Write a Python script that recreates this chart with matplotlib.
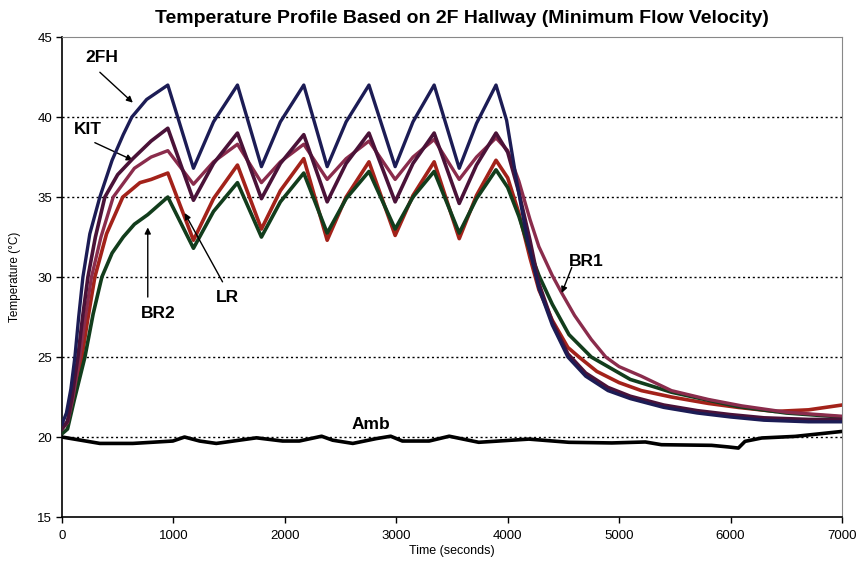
import matplotlib
matplotlib.use('Agg')
import matplotlib.pyplot as plt

plt.rcParams['font.family'] = ['Liberation Sans', 'DejaVu Sans']

# Data (time in s, temperature in deg C)
t_2fh = [0, 40, 80, 116, 150, 188, 250, 340, 450, 550, 627, 760, 950,
         1180, 1360, 1575, 1790, 1960, 2170, 2380, 2550, 2755, 2990, 3150, 3340, 3565, 3720, 3895,
         3990, 4080, 4180, 4280, 4400, 4540, 4700, 4900, 5100, 5400, 5700, 6000, 6300, 6700, 7000]
T_2fh = [20.8, 21.5, 23.0, 25.0, 27.5, 30.0, 32.7, 35.0, 37.3, 38.9, 40.0, 41.1, 42.0,
         36.8, 39.7, 42.0, 36.9, 39.7, 42.0, 36.9, 39.7, 42.0, 36.9, 39.7, 42.0, 36.8, 39.6, 42.0,
         39.8, 36.0, 32.2, 29.3, 27.0, 25.0, 23.8, 22.9, 22.4, 21.85, 21.5, 21.25, 21.05, 20.95, 20.95]

t_kit = [0, 50, 90, 143, 185, 233, 300, 385, 500, 636, 800, 950,
         1180, 1360, 1575, 1790, 1960, 2170, 2380, 2550, 2755, 2990, 3150, 3340, 3565, 3720, 3895,
         4000, 4100, 4200, 4280, 4400, 4540, 4700, 4900, 5100, 5400, 5700, 6000, 6300, 6700, 7000]
T_kit = [20.5, 21.0, 22.5, 25.0, 27.5, 30.0, 32.5, 35.0, 36.4, 37.4, 38.5, 39.3,
         34.8, 37.1, 39.0, 34.9, 37.1, 38.9, 34.7, 37.1, 39.0, 34.7, 37.1, 39.0, 34.6, 37.0, 39.0,
         37.8, 35.3, 32.3, 29.6, 27.2, 25.2, 24.0, 23.1, 22.55, 22.0, 21.65, 21.4, 21.2, 21.1, 21.1]

t_br1 = [0, 50, 100, 160, 210, 265, 350, 460, 650, 800, 950,
         1180, 1360, 1575, 1790, 1960, 2170, 2380, 2550, 2755, 2990, 3150, 3340, 3565, 3720, 3895,
         4000, 4100, 4200, 4280, 4400, 4485, 4600, 4750, 4880, 5000, 5200, 5470, 5800, 6100, 6500, 7000]
T_br1 = [20.5, 20.9, 22.5, 25.0, 27.5, 30.0, 32.5, 35.0, 36.8, 37.5, 37.9,
         35.8, 37.2, 38.3, 35.9, 37.2, 38.3, 36.1, 37.4, 38.5, 36.1, 37.5, 38.6, 36.1, 37.5, 38.7,
         37.9, 36.0, 33.6, 31.9, 30.1, 29.0, 27.6, 26.1, 25.0, 24.4, 23.8, 22.9, 22.35, 21.95, 21.55, 21.3]

t_lr = [0, 50, 100, 179, 230, 295, 400, 546, 700, 800, 950,
        1180, 1360, 1575, 1790, 1960, 2170, 2380, 2550, 2755, 2990, 3150, 3340, 3565, 3720, 3895,
        4000, 4100, 4200, 4280, 4400, 4540, 4640, 4800, 5000, 5200, 5470, 5800, 6070, 6400, 6700, 7000]
T_lr = [20.6, 20.9, 22.3, 25.0, 27.3, 30.0, 32.7, 35.0, 35.9, 36.1, 36.5,
        32.3, 34.9, 37.0, 33.0, 35.4, 37.4, 32.3, 35.0, 37.2, 32.6, 35.1, 37.2, 32.4, 35.1, 37.3,
        36.2, 34.0, 31.2, 29.2, 27.3, 25.6, 25.0, 24.1, 23.4, 22.9, 22.5, 22.1, 21.85, 21.6, 21.7, 22.0]

t_br2 = [0, 50, 110, 206, 280, 358, 450, 550, 650, 770, 950,
         1180, 1360, 1575, 1790, 1960, 2170, 2380, 2550, 2755, 2990, 3150, 3340, 3565, 3720, 3895,
         4000, 4100, 4200, 4280, 4400, 4550, 4750, 4900, 5100, 5470, 5800, 6070, 6500, 7000]
T_br2 = [20.2, 20.5, 22.3, 25.0, 27.7, 30.0, 31.5, 32.5, 33.3, 33.9, 35.0,
         31.8, 34.1, 35.9, 32.5, 34.7, 36.5, 32.75, 34.9, 36.6, 33.0, 35.0, 36.6, 32.75, 34.9, 36.7,
         35.6, 33.8, 31.6, 30.1, 28.3, 26.4, 25.0, 24.4, 23.6, 22.8, 22.3, 21.9, 21.5, 21.25]

t_amb = [0, 340, 636, 995, 1100, 1235, 1385, 1745, 1980, 2130, 2330, 2430, 2610, 2820, 2950,
         3055, 3295, 3475, 3740, 4190, 4550, 4935, 5235, 5380, 5830, 5980, 6070, 6130, 6280, 6580, 7000]
T_amb = [20.0, 19.6, 19.6, 19.75, 20.0, 19.75, 19.6, 19.95, 19.75, 19.75, 20.05, 19.8, 19.6, 19.9, 20.05,
         19.75, 19.75, 20.05, 19.67, 19.87, 19.67, 19.63, 19.69, 19.52, 19.48, 19.38, 19.31, 19.73, 19.94, 20.04, 20.35]

fig = plt.figure(figsize=(8.57, 5.64), dpi=100)
ax = fig.add_axes([0.0723, 0.0833, 0.9102, 0.851])

ax.plot(t_lr, T_lr, color='#a3221a', lw=2.6, zorder=3)
ax.plot(t_br2, T_br2, color='#123d1c', lw=2.6, zorder=3)
ax.plot(t_br1, T_br1, color='#8a2c4c', lw=2.4, zorder=3)
ax.plot(t_kit, T_kit, color='#4a1238', lw=2.6, zorder=4)
ax.plot(t_2fh, T_2fh, color='#1c1c55', lw=2.4, zorder=4)
ax.plot(t_amb, T_amb, color='black', lw=2.6, zorder=4)

ax.set_xlim(0, 7000)
ax.set_ylim(15, 45)
ax.set_xticks(range(0, 7001, 1000))
ax.set_yticks(range(15, 46, 5))
ax.tick_params(direction='out', length=4, width=1, labelsize=9.5, colors='black')
ax.tick_params(axis='x', pad=5)
ax.tick_params(axis='y', pad=3)

for y in range(20, 45, 5):
    ax.axhline(y, color='black', lw=1, linestyle=(0, (1.5, 2)), zorder=1)

for s in ['top', 'right']:
    ax.spines[s].set_color('#888888')
for s in ['left', 'bottom']:
    ax.spines[s].set_color('black')
    ax.spines[s].set_linewidth(1.2)

ax.set_xlabel('Time (seconds)', fontsize=9)
ax.set_ylabel('Temperature (\u00b0C)', fontsize=8.5)
ax.xaxis.set_label_coords(0.5, -0.058)
ax.yaxis.set_label_coords(-0.053, 0.5)

fig.text(0.539, 0.967, 'Temperature Profile Based on 2F Hallway (Minimum Flow Velocity)',
         ha='center', va='center', fontsize=14, fontweight='bold')

# Curve labels with arrows
arrow = dict(arrowstyle='-|>', color='black', lw=1, mutation_scale=9, shrinkA=0, shrinkB=0)
lbl = dict(fontsize=12.5, fontweight='bold', ha='center', va='center')

ax.text(358, 43.7, '2FH', **lbl)
ax.annotate('', xy=(636, 40.9), xytext=(340, 42.8), arrowprops=arrow)
ax.text(233, 39.25, 'KIT', **lbl)
ax.annotate('', xy=(636, 37.3), xytext=(295, 38.4), arrowprops=arrow)
ax.text(860, 27.75, 'BR2', **lbl)
ax.annotate('', xy=(770, 33.1), xytext=(770, 28.75), arrowprops=arrow)
ax.text(1486, 28.7, 'LR', **lbl)
ax.annotate('', xy=(1101, 34.0), xytext=(1441, 29.7), arrowprops=arrow)
ax.text(4709, 31.0, 'BR1', **lbl)
ax.annotate('', xy=(4485, 29.0), xytext=(4575, 30.6), arrowprops=arrow)
ax.text(2775, 20.8, 'Amb', **lbl)

fig.savefig('out.png', dpi=100)
